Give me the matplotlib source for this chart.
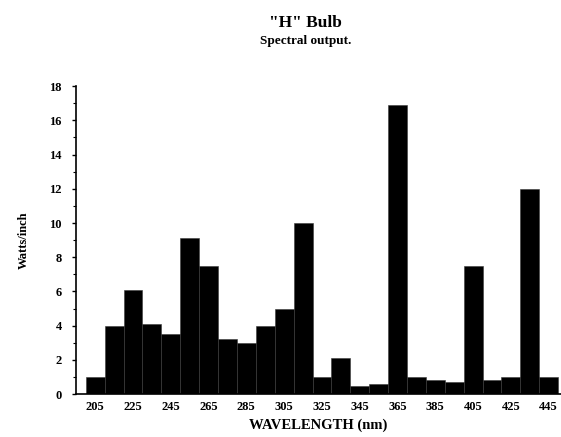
import numpy as np
import matplotlib
matplotlib.use("Agg")
import matplotlib.pyplot as plt
from matplotlib.ticker import MultipleLocator

# wavelength bins (nm) and output per bin
wavelengths = list(range(205, 446, 10))
watts = [1.0, 4.0, 6.1, 4.1, 3.5, 9.1, 7.5, 3.2, 3.0, 4.0, 5.0, 10.0, 1.0,
         2.1, 0.5, 0.6, 16.9, 1.0, 0.8, 0.7, 7.5, 0.8, 1.0, 12.0, 1.0]
tick_labels = list(range(205, 446, 20))

plt.rcParams['font.family'] = ['Liberation Serif', 'DejaVu Serif']
plt.rcParams['font.weight'] = 'bold'

fig = plt.figure(figsize=(5.61, 4.37), dpi=100)
ax = fig.add_axes([0.135, 0.098, 0.865, 0.705])

ax.bar(wavelengths, watts, width=10, color='black', edgecolor='#3a3a3a', linewidth=0.4)

ax.set_xlim(194.7, 451.5)
ax.set_ylim(0, 18)
ax.set_xticks(tick_labels)
ax.set_xticklabels([str(t) for t in tick_labels], fontsize=9, fontweight='bold')
ax.yaxis.set_major_locator(MultipleLocator(2))
ax.yaxis.set_minor_locator(MultipleLocator(1))
ax.tick_params(axis='y', which='major', length=3, width=1, labelsize=9, pad=7)
ax.tick_params(axis='y', which='minor', length=2, width=0.8)
ax.tick_params(axis='x', length=0, pad=5)
for lab in ax.get_yticklabels():
    lab.set_fontweight('bold')

ax.spines['top'].set_visible(False)
ax.spines['right'].set_visible(False)
ax.spines['left'].set_linewidth(1.2)
ax.spines['bottom'].set_linewidth(1.2)

ax.set_xlabel('WAVELENGTH (nm)', fontsize=10.5, fontweight='bold', labelpad=4)
ax.set_ylabel('Watts/inch', fontsize=9, fontweight='bold', labelpad=14)

fig.text(0.545, 0.948, '"H" Bulb', ha='center', va='center', fontsize=12.5, fontweight='bold')
fig.text(0.545, 0.906, 'Spectral output.', ha='center', va='center', fontsize=9.5, fontweight='bold')

fig.savefig('out.png', dpi=100)
